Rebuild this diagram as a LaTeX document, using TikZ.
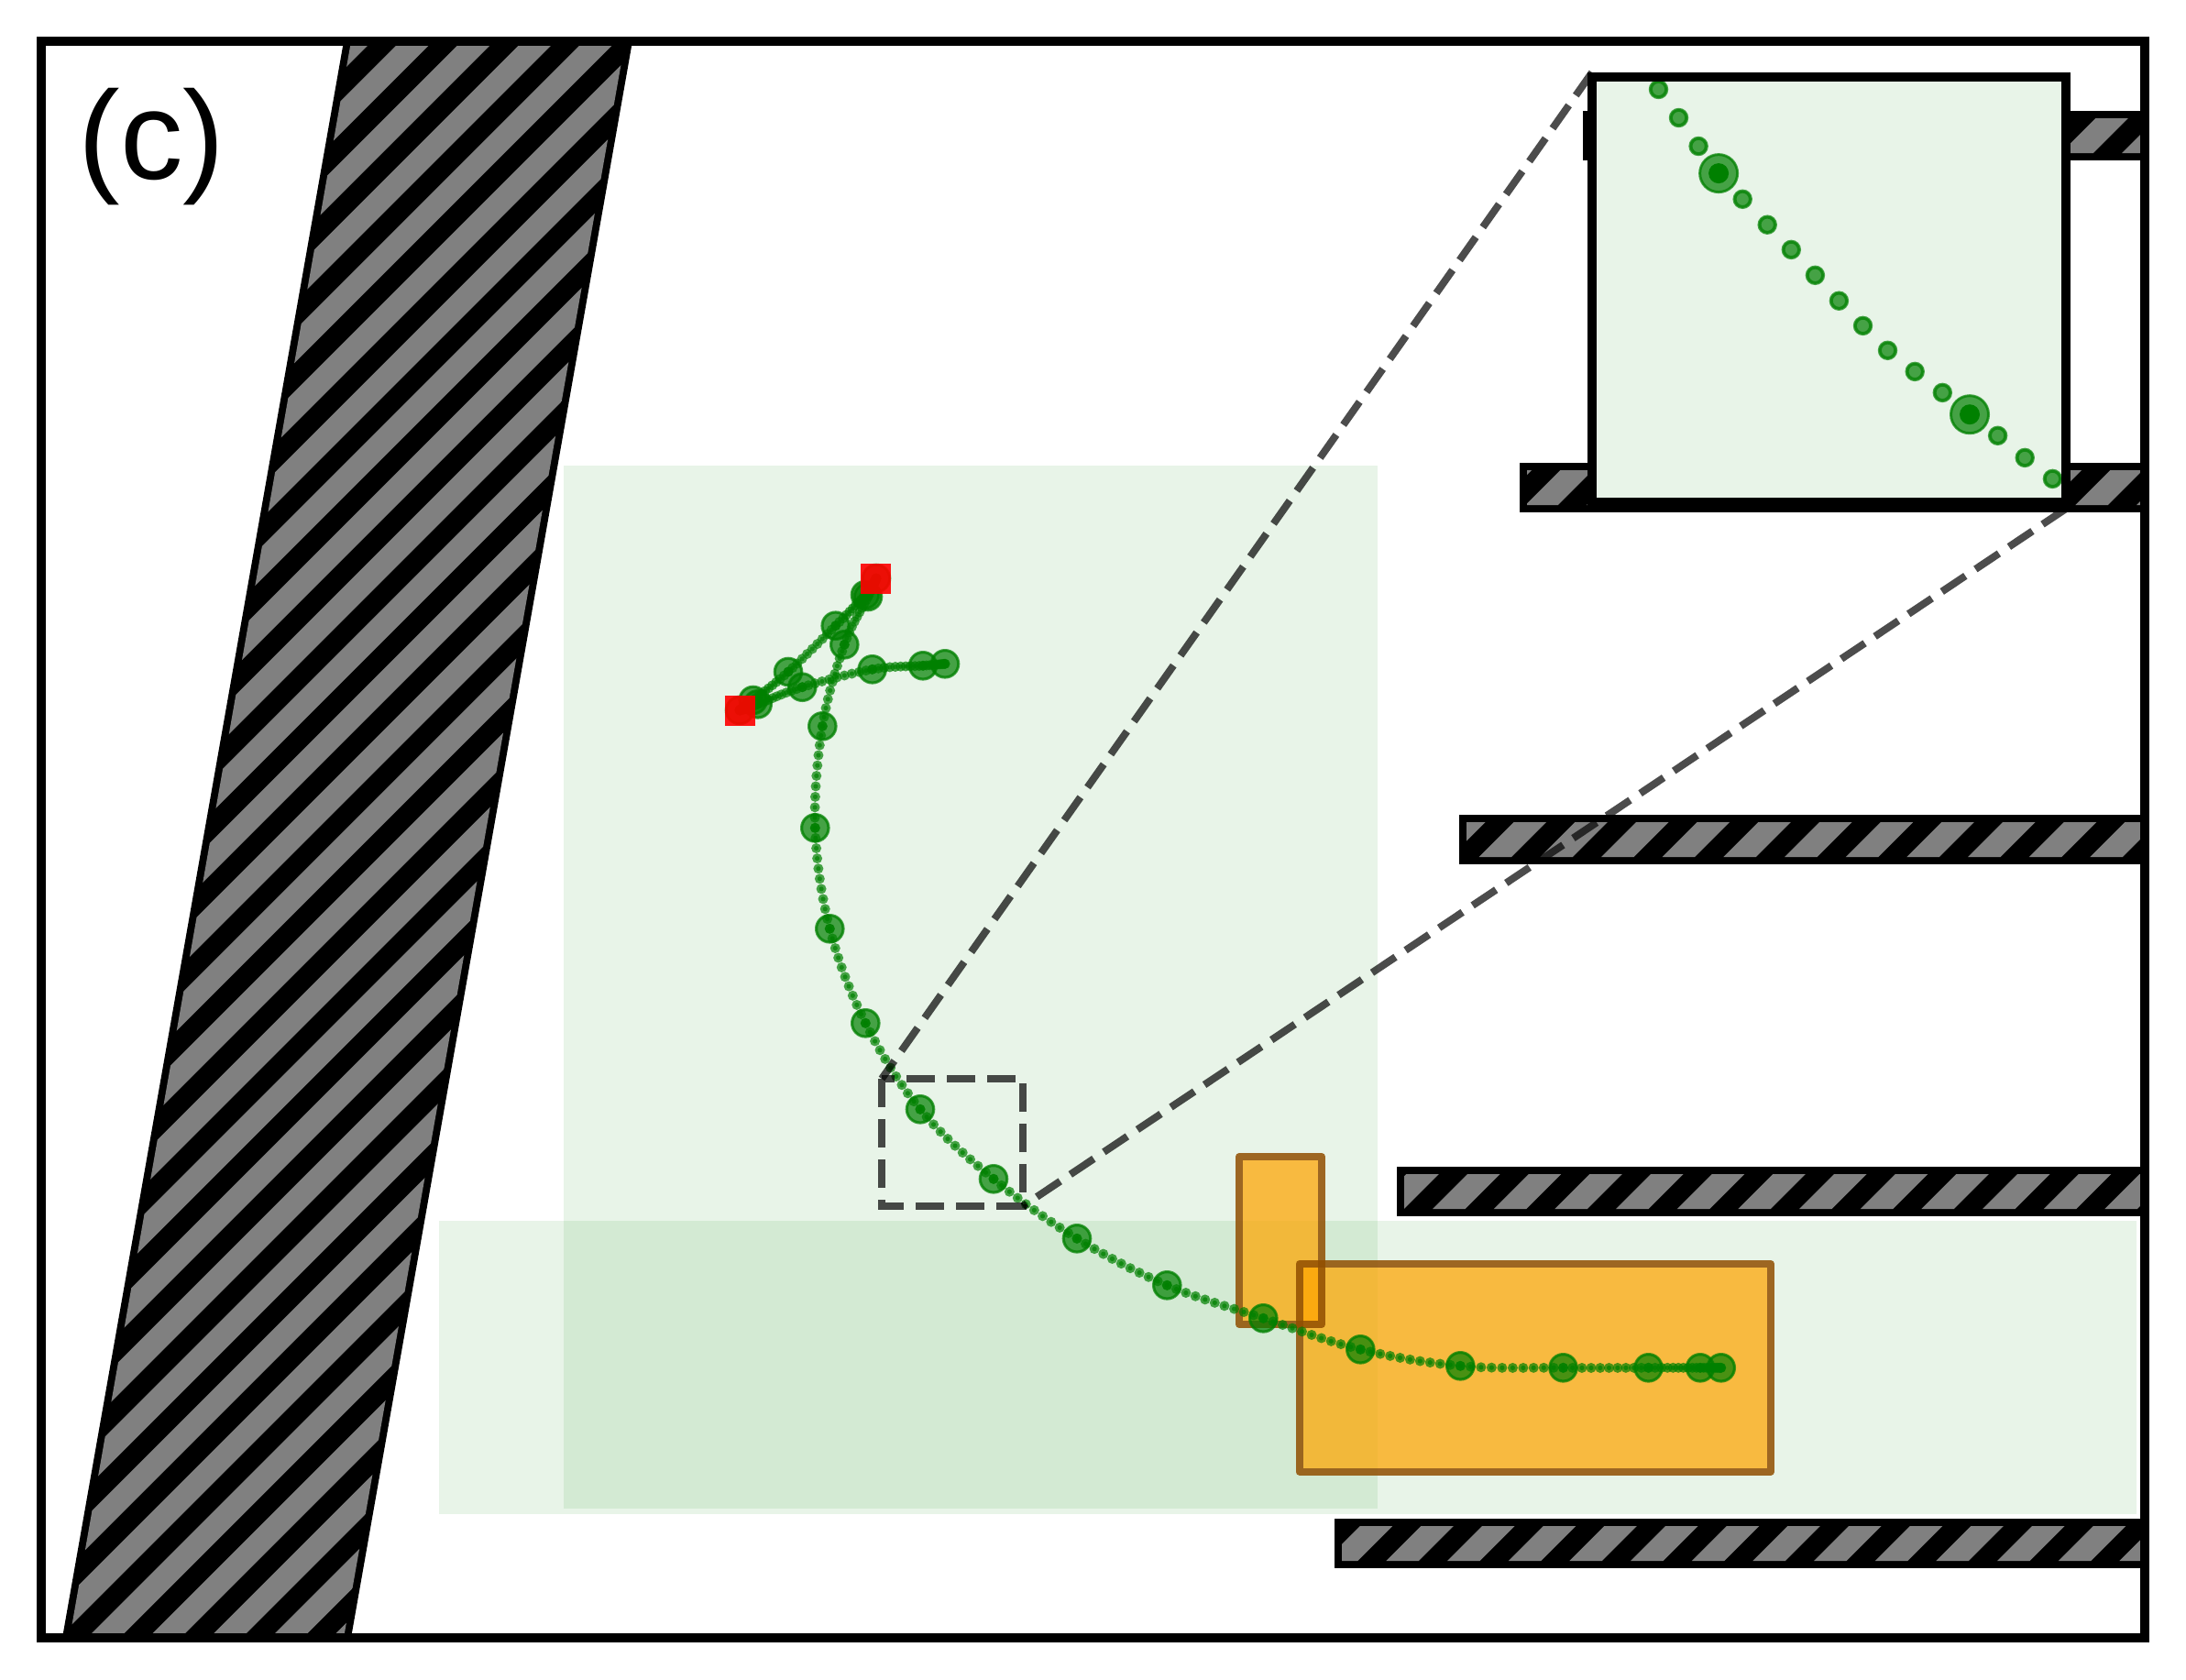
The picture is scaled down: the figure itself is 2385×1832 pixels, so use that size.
\documentclass[tikz,border=0pt]{standalone}
\usepackage{fontspec}
\setmainfont{Liberation Sans}
\definecolor{regiongreen}{RGB}{0,140,0}
\definecolor{markgreen}{RGB}{0,128,0}
\definecolor{insetbg}{RGB}{232,244,232}
\definecolor{hatchgray}{RGB}{128,128,128}
\definecolor{boxorange}{RGB}{255,165,0}
\definecolor{boxedge}{RGB}{145,78,0}
\tikzset{
  region/.style={fill=regiongreen,fill opacity=0.09,draw=none},
  boxfill/.style={fill=boxorange,fill opacity=0.72,draw=none},
  boxline/.style={draw=boxedge,draw opacity=0.85,line width=8pt,line join=round},
  dashline/.style={draw=black,draw opacity=0.7,line width=8pt,dash pattern=on 30.7pt off 13.3pt},
  gdot/.style={fill=markgreen,fill opacity=0.7,draw=none},
  gring/.style={draw=markgreen,draw opacity=0.7,fill=none},
  goal/.style={fill=red,fill opacity=0.9,draw=none},
  frameline/.style={draw=black,line width=10pt,line join=miter}
}
\newcommand{\hatchstripes}[2]{%
  \foreach \n in {-22,...,34}{%
    \pgfmathsetmacro{\cc}{1882+66.67*\n}%
    \fill[hatchgray] ({\cc-#1},#1) -- ({\cc+35.5-#1},#1) -- ({\cc+35.5-#2},#2) -- ({\cc-#2},#2) -- cycle;
  }%
}
\newcommand{\hatchbar}[2]{% left, top
  \fill[black] (#1,#2) rectangle (2340,{#2+54});
  \begin{scope}
    \clip ({#1+8},{#2+8}) rectangle (2336,{#2+46});
    \pgfmathsetmacro{\yta}{#2+8}\pgfmathsetmacro{\ytb}{#2+46}
    \hatchstripes{\yta}{\ytb}
  \end{scope}
}
\newcommand{\bigmark}[2]{%
  \fill[gdot] (#1,#2) circle[radius=15.3pt];
  \draw[gring,line width=3.2pt] (#1,#2) circle[radius=14.7pt];
  \fill[gdot] (#1,#2) circle[radius=5.5pt];
}
\newcommand{\smallmark}[2]{%
  \fill[gdot] (#1,#2) circle[radius=5.5pt];
  \fill[gdot] (#1,#2) circle[radius=2.6pt];
}
\newcommand{\insetsmall}[2]{%
  \fill[gdot] (#1,#2) circle[radius=9.6pt];
  \draw[gring,line width=4pt] (#1,#2) circle[radius=8.7pt];
}
\newcommand{\insetbig}[2]{%
  \fill[gdot] (#1,#2) circle[radius=21pt];
  \draw[gring,line width=3pt] (#1,#2) circle[radius=20.5pt];
  \fill[fill=markgreen] (#1,#2) circle[radius=11pt];
}
\def\PX{{1877.7,1855,1798.5,1705.5,1593.3,1484.3,1378.3,1273.3,1175,1084,1004,944.3,905.3,889.3,897.3,921.3,947,956,944,911.7,860,821.7,807,826.7,875.3,951.7,1007,1031}}
\def\PY{{1492.3,1492.3,1492.3,1492.3,1490.3,1472.3,1438.3,1402.3,1351.3,1286.3,1210.3,1116.3,1013.3,903.3,792.3,703.3,651,631,649,682.7,733,764,775,768.3,749.7,730.3,726.3,724.3}}
\begin{document}
\begin{tikzpicture}[x=1pt,y=-1pt]
\useasboundingbox (0,0) rectangle (2385,1832);
\fill[white] (0,0) rectangle (2385,1832);
% shaded regions
\fill[region] (615,508) rectangle (1503,1646);
\fill[region] (479,1332) rectangle (2331,1652);
% slanted wall
\fill[black] (68,1787) -- (383,1787) -- (690,45) -- (375,45) -- cycle;
\begin{scope}
  \clip (76,1787) -- (375,1787) -- (682,45) -- (383,45) -- cycle;
  \hatchstripes{45}{1787}
\end{scope}
% horizontal bars
\hatchbar{1727}{121}
\hatchbar{1658}{505}
\hatchbar{1592}{889}
\hatchbar{1524}{1273}
\hatchbar{1456}{1657}
% orange boxes
\fill[boxfill] (1356,1266) rectangle (1438,1441);
\fill[boxfill] (1421.5,1383) rectangle (1928,1601.5);
\draw[boxline] (1352,1262) rectangle (1442,1445);
\draw[boxline] (1417.5,1379) rectangle (1932,1605.5);
% trajectory
\foreach \i in {0,...,26}{%
  \pgfmathsetmacro{\ia}{int(max(\i-1,0))}%
  \pgfmathsetmacro{\ib}{int(\i+1)}%
  \pgfmathsetmacro{\ic}{int(min(\i+2,27))}%
  \pgfmathsetmacro{\xa}{\PX[\ia]}\pgfmathsetmacro{\xb}{\PX[\i]}\pgfmathsetmacro{\xc}{\PX[\ib]}\pgfmathsetmacro{\xd}{\PX[\ic]}%
  \pgfmathsetmacro{\ya}{\PY[\ia]}\pgfmathsetmacro{\yb}{\PY[\i]}\pgfmathsetmacro{\yc}{\PY[\ib]}\pgfmathsetmacro{\yd}{\PY[\ic]}%
  \pgfmathsetmacro{\mxa}{0.5*(\xc-\xa)}\pgfmathsetmacro{\mxb}{0.5*(\xd-\xb)}\pgfmathsetmacro{\dx}{\xc-\xb}%
  \pgfmathsetmacro{\mya}{0.5*(\yc-\ya)}\pgfmathsetmacro{\myb}{0.5*(\yd-\yb)}\pgfmathsetmacro{\dy}{\yc-\yb}%
  \bigmark{\xb}{\yb}
  \foreach \k in {0,...,9}{%
    \pgfmathsetmacro{\tt}{\k/10}%
    \pgfmathsetmacro{\px}{\xb+\tt*\mxa+\tt*\tt*(3*\dx-2*\mxa-\mxb)+\tt*\tt*\tt*(\mxa+\mxb-2*\dx)}%
    \pgfmathsetmacro{\py}{\yb+\tt*\mya+\tt*\tt*(3*\dy-2*\mya-\myb)+\tt*\tt*\tt*(\mya+\myb-2*\dy)}%
    \smallmark{\px}{\py}
  }
}
\bigmark{1031}{724.3}
\smallmark{1031}{724.3}
% goals
\fill[goal] (938.5,614.5) rectangle (971.5,647.5);
\fill[goal] (790.5,758.5) rectangle (823.5,791.5);
% zoom box and connectors
\coordinate (boxTL) at (962,1177);
\coordinate (boxBL) at (962,1316);
\coordinate (boxBR) at (1116,1316);
\coordinate (boxTR) at (1116,1177);
\coordinate (insetTL) at (1737,79);
\coordinate (insetBR) at (2254,555);
\draw[dashline] (boxTL) -- (boxBL) -- (boxBR) -- (boxTR) -- cycle;
\draw[dashline] (insetTL) -- (boxTL);
\draw[dashline] (insetBR) -- (boxBR);
% inset
\fill[insetbg] (1737,84) rectangle (2253.5,548);
\begin{scope}
  \clip (1737,84) rectangle (2253.5,548);
  \foreach \a/\b in {1809.5/97.5,1831.5/128.5,1853.1/159.5,1901.2/217.3,1928.2/245.2,1954.3/272.4,1980.4/300.3,2006.4/328.2,2032.5/355.4,2059.5/382.3,2089.2/405.4,2119.3/428.4,2179.6/475.3,2209.2/499.4,2239.4/522.4}{\insetsmall{\a}{\b}}
  \insetbig{1875.1}{189.1}
  \insetbig{2149}{452.2}
\end{scope}
\draw[frameline] (1737,84) rectangle (2253.5,548);
% outer frame
\draw[frameline] (45,45) rectangle (2340,1787);
\node[anchor=base,inner sep=0pt,font=\fontsize{137}{137}\selectfont] (panel) at (165.5,195) {(c)};
\end{tikzpicture}
\end{document}
